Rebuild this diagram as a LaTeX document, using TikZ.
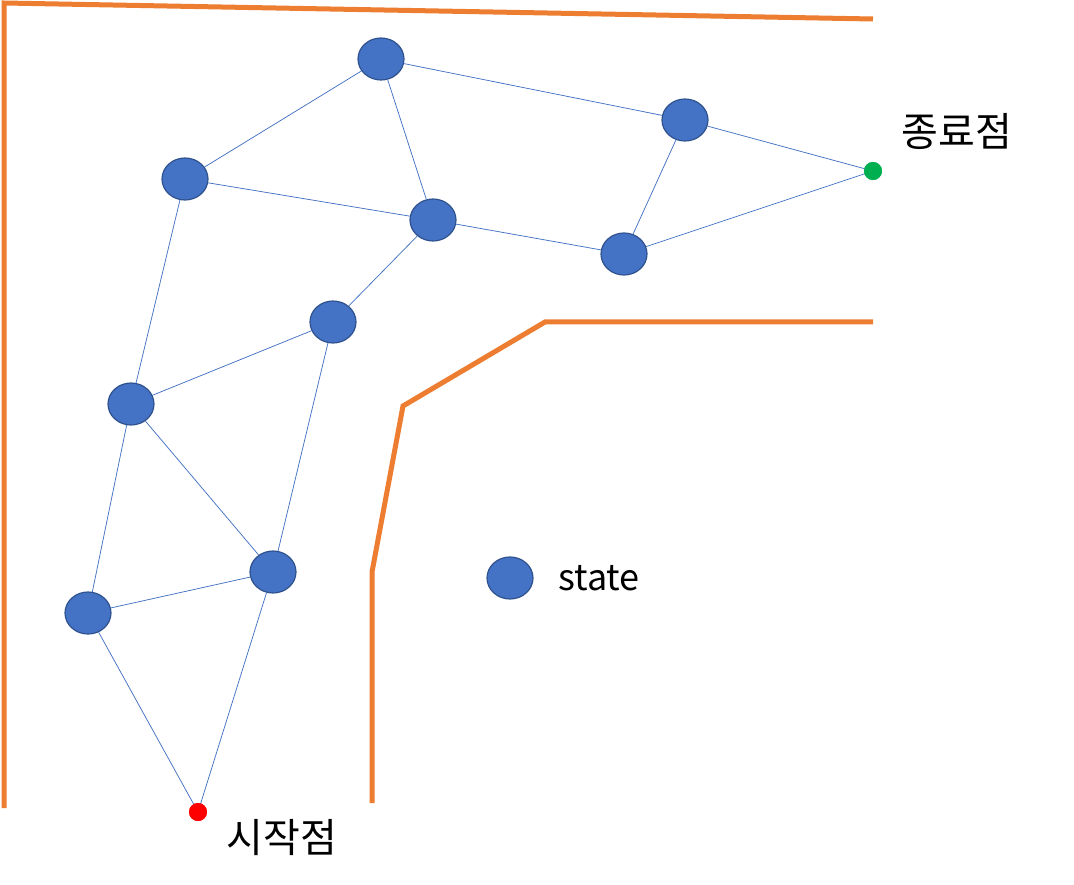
\documentclass[tikz,border=0pt]{standalone}
\usepackage{fontspec}
\setmainfont{Noto Sans CJK KR}
\usetikzlibrary{shapes.geometric}
\definecolor{nodeblue}{HTML}{4472C4}
\definecolor{nodeborder}{HTML}{2F528F}
\definecolor{wallorange}{HTML}{ED7D31}
\definecolor{endgreen}{HTML}{00B050}
\begin{document}
\begin{tikzpicture}[x=1pt,y=-1pt,
  statenode/.style={ellipse,draw=nodeborder,line width=1.2pt,fill=nodeblue,minimum width=46pt,minimum height=42pt,inner sep=0pt},
  edge/.style={draw=nodeblue,line width=0.75pt},
  wall/.style={draw=wallorange,line width=5pt},
  lbl/.style={font=\fontsize{40pt}{44pt}\selectfont,text=black,inner sep=0pt},
  pt/.style={circle,inner sep=0pt,minimum size=18pt}]
\useasboundingbox (0,0) rectangle (1074,885);
% walls
\draw[wall] (4,808) -- (4,3) -- (873,19);
\draw[wall] (372,803) -- (372,572) -- (403,406) -- (545,322) -- (873,322);
% nodes
\node[statenode] (A) at (381,59) {};
\node[statenode] (B) at (685,120) {};
\node[statenode] (C) at (185,179) {};
\node[statenode] (D) at (433,220) {};
\node[statenode] (E) at (624,254) {};
\node[statenode] (F) at (333,322) {};
\node[statenode] (G) at (131,404) {};
\node[statenode] (H) at (273,572) {};
\node[statenode] (I) at (88,613) {};
\node[pt,fill=endgreen] (goal) at (873,171) {};
\node[pt,fill=red] (start) at (198,812) {};
% edges
\draw[edge] (A) -- (C);
\draw[edge] (A) -- (D);
\draw[edge] (A) -- (B);
\draw[edge] (C) -- (D);
\draw[edge] (D) -- (E);
\draw[edge] (B) -- (E);
\draw[edge] (B) -- (goal.center);
\draw[edge] (E) -- (goal.center);
\draw[edge] (D) -- (F);
\draw[edge] (F) -- (G);
\draw[edge] (F) -- (H);
\draw[edge] (C) -- (G);
\draw[edge] (G) -- (H);
\draw[edge] (G) -- (I);
\draw[edge] (I) -- (H);
\draw[edge] (I) -- (start.center);
\draw[edge] (H) -- (start.center);
\node[pt,fill=endgreen] at (goal) {};
\node[pt,fill=red] at (start) {};
% labels
\node[lbl] (goallbl) at (957,131) {종료점};
\node[lbl] (startlbl) at (282,838) {시작점};
% legend
\node[statenode] (legend) at (510,578) {};
\node[lbl,font=\fontsize{36pt}{40pt}\selectfont,anchor=west] (legendlbl) at (558,578) {state};
\end{tikzpicture}
\end{document}
